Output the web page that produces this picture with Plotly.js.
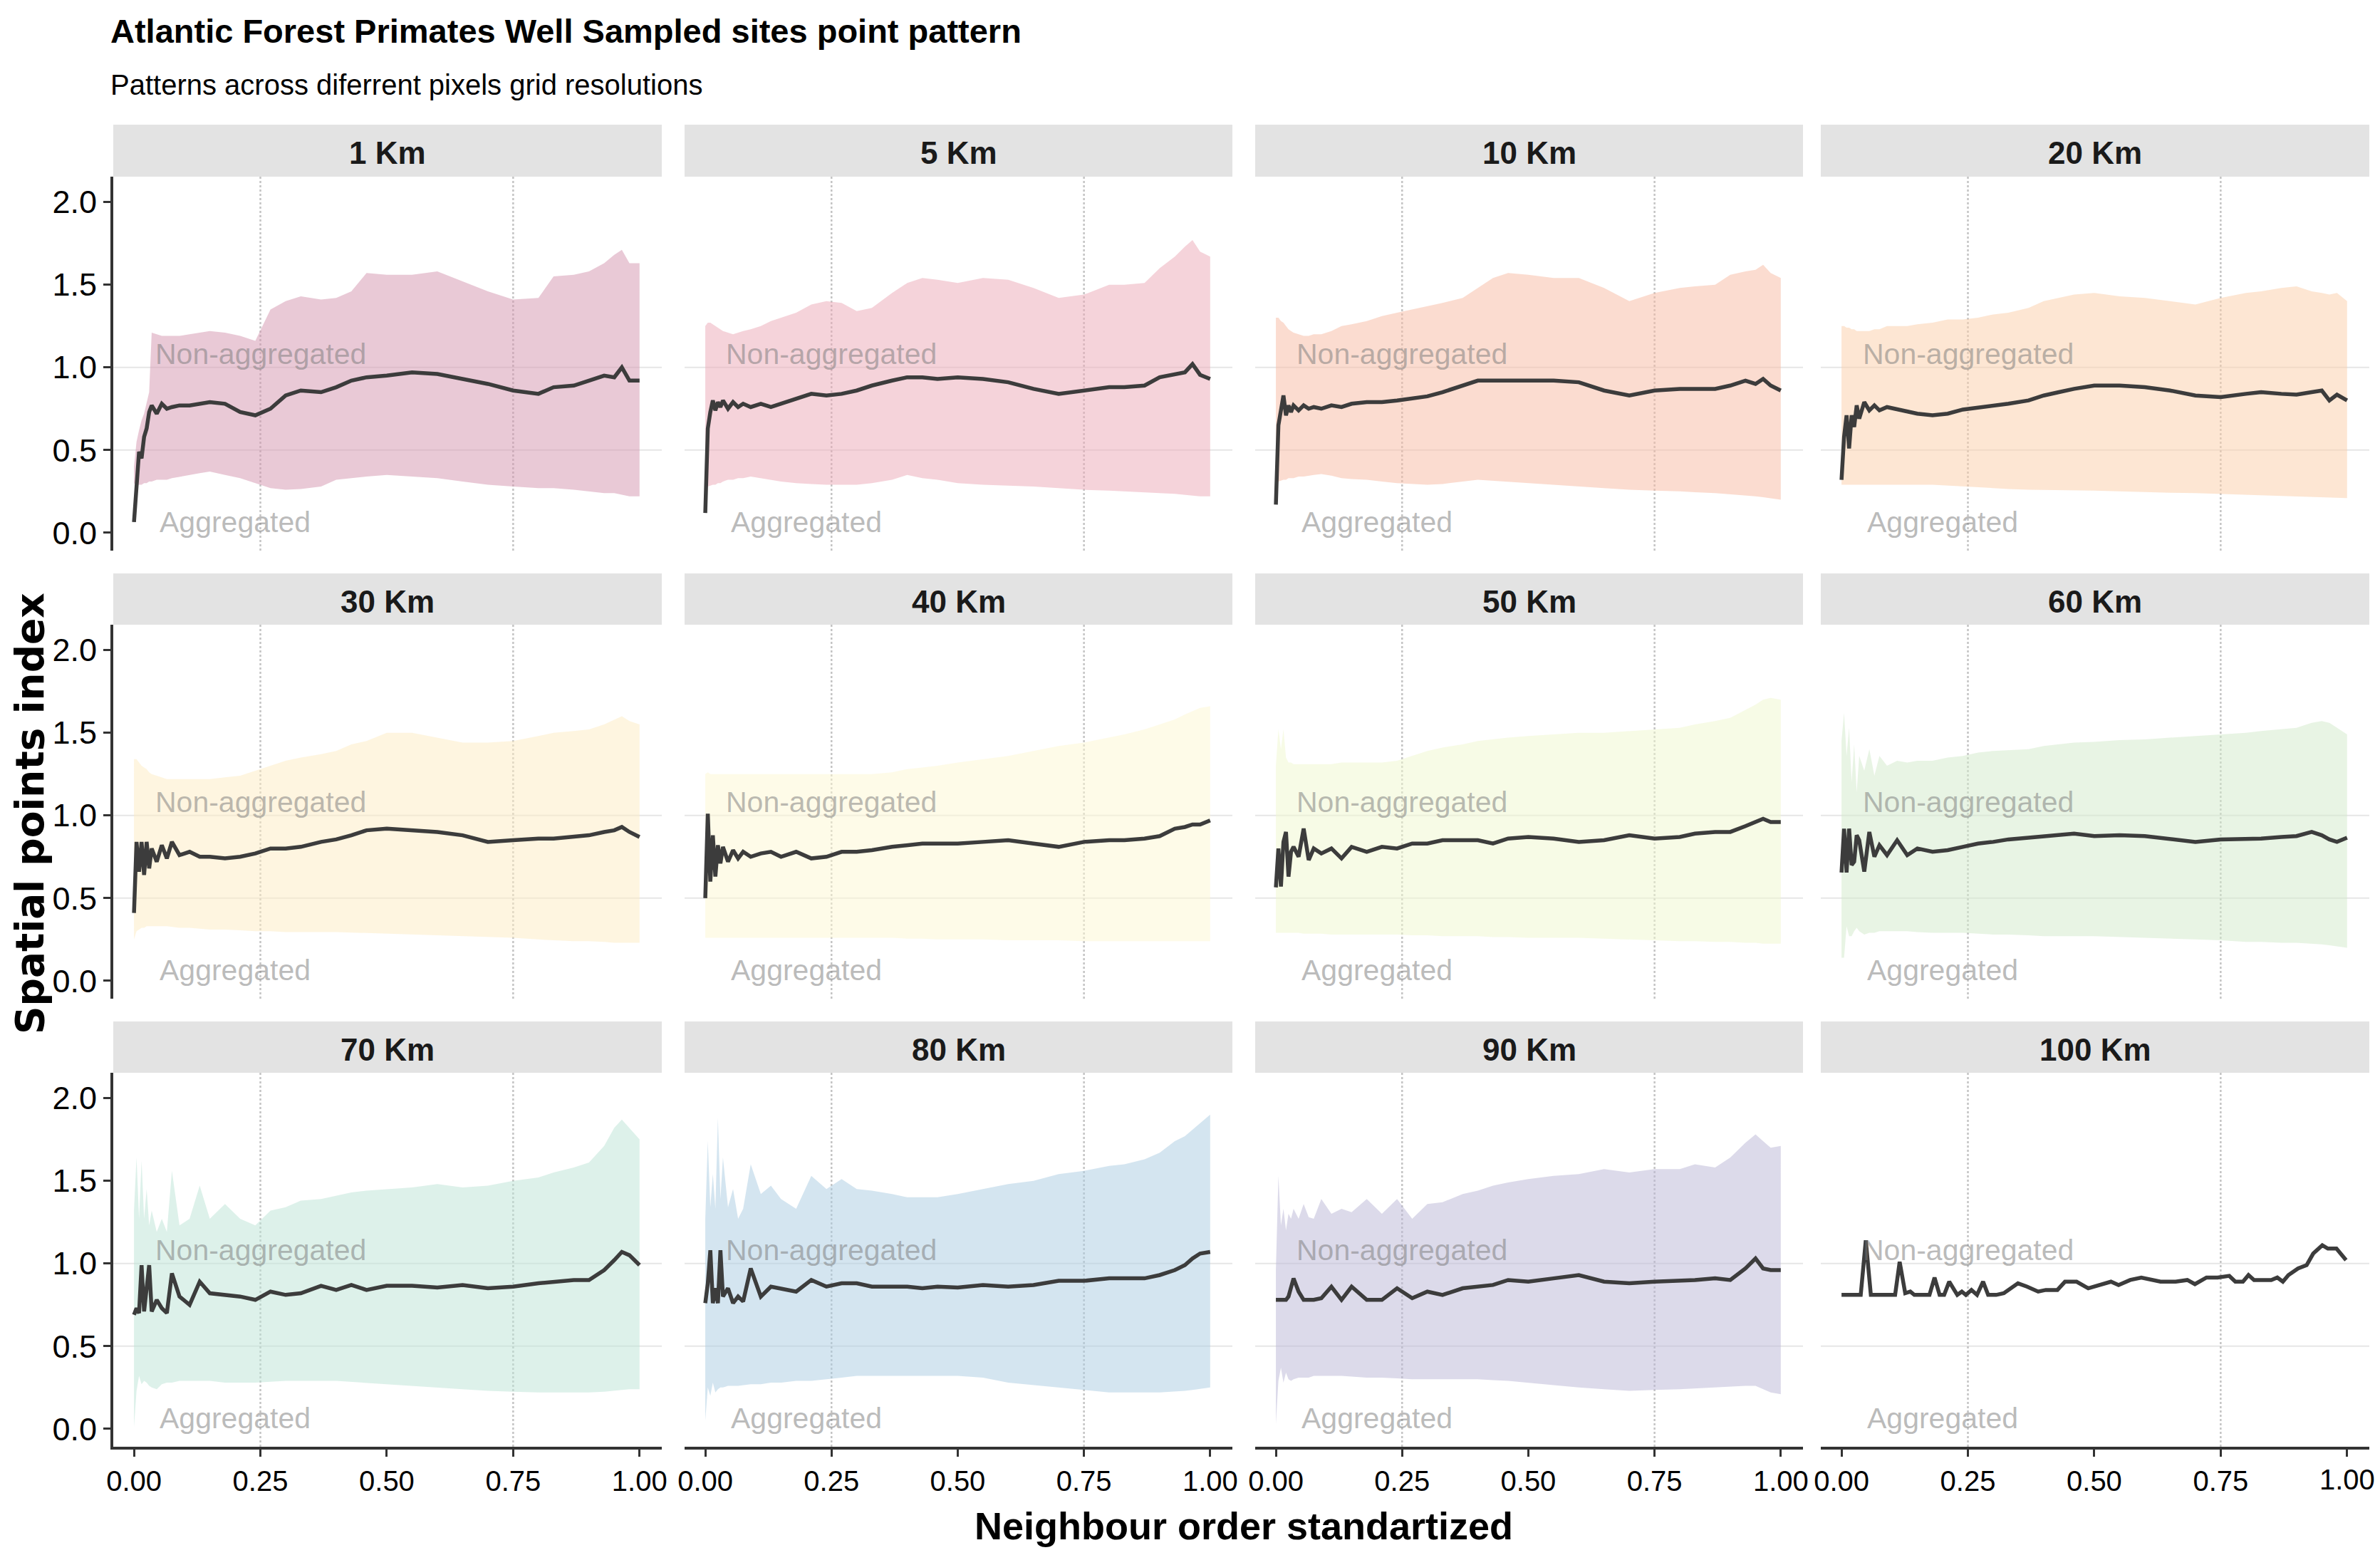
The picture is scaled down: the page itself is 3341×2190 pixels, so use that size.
<!DOCTYPE html>
<html><head><meta charset="utf-8">
<script src="https://cdn.plot.ly/plotly-3.0.1.min.js"></script>
<style>html,body{margin:0;padding:0;background:#fff;overflow:hidden;}#chart{width:3341px;height:2190px;}</style>
</head><body><div id="chart"></div>
<script>
// ---------------- DATA ----------------
const xGrid = [0, 0.005, 0.01, 0.015, 0.02, 0.025, 0.03, 0.035, 0.045, 0.055,
  0.065, 0.075, 0.09, 0.11, 0.13, 0.15, 0.18, 0.21, 0.24, 0.27,
  0.30, 0.33, 0.37, 0.40, 0.43, 0.46, 0.50, 0.55, 0.60, 0.65,
  0.70, 0.75, 0.80, 0.83, 0.87, 0.90, 0.93, 0.95, 0.965, 0.98, 1.0];

const panelLabels = ['1 Km','5 Km','10 Km','20 Km','30 Km','40 Km','50 Km','60 Km','70 Km','80 Km','90 Km','100 Km'];
const xTickVals = [0, 0.25, 0.5, 0.75, 1];
const xTickText = ['0.00','0.25','0.50','0.75','1.00'];
const yTickVals = [0, 0.5, 1, 1.5, 2];
const yTickText = ['0.0','0.5','1.0','1.5','2.0'];

const mean1 = [0.065,0.32,0.49,0.45,0.58,0.63,0.73,0.77,0.72,0.78, 0.75,0.76,0.77,0.77,0.78,0.79,0.78,0.73,0.71,0.75, 0.83,0.86,0.85,0.88,0.92,0.94,0.95,0.97,0.96,0.93, 0.90,0.86,0.84,0.88,0.89,0.92,0.95,0.94,1.00,0.92, 0.92];
const upper1 = [0.40,0.55,0.62,0.68,0.72,0.78,0.85,1.21,1.20,1.19, 1.19,1.19,1.19,1.20,1.21,1.22,1.21,1.19,1.16,1.35, 1.40,1.43,1.41,1.42,1.46,1.57,1.56,1.56,1.58,1.52, 1.46,1.41,1.42,1.55,1.56,1.58,1.63,1.68,1.71,1.63, 1.63];
const lower1 = [0.30,0.285,0.29,0.29,0.30,0.30,0.31,0.31,0.32,0.32, 0.32,0.33,0.34,0.35,0.36,0.37,0.35,0.33,0.30,0.27, 0.26,0.265,0.28,0.32,0.33,0.34,0.35,0.34,0.33,0.31, 0.29,0.28,0.27,0.27,0.26,0.25,0.24,0.24,0.23,0.22, 0.22];

const mean5 = [0.12,0.63,0.73,0.80,0.74,0.79,0.76,0.80,0.75,0.79, 0.76,0.78,0.76,0.78,0.76,0.78,0.81,0.84,0.83,0.84, 0.86,0.89,0.92,0.94,0.94,0.93,0.94,0.93,0.91,0.87, 0.84,0.86,0.88,0.88,0.89,0.94,0.955,0.97,1.02,0.955, 0.93];
const upper5 = [1.25,1.27,1.27,1.26,1.25,1.24,1.23,1.22,1.21,1.20, 1.21,1.22,1.23,1.25,1.28,1.30,1.33,1.38,1.40,1.39, 1.34,1.36,1.45,1.51,1.54,1.53,1.51,1.54,1.53,1.48, 1.42,1.44,1.50,1.50,1.51,1.60,1.67,1.73,1.77,1.70, 1.67];
const lower5 = [0.28,0.28,0.285,0.29,0.29,0.30,0.30,0.31,0.32,0.32, 0.33,0.33,0.34,0.33,0.32,0.31,0.30,0.295,0.29,0.29, 0.29,0.30,0.32,0.35,0.33,0.32,0.30,0.29,0.285,0.28, 0.27,0.26,0.255,0.25,0.245,0.24,0.235,0.23,0.225,0.22, 0.22];

const mean10 = [0.17,0.65,0.74,0.83,0.71,0.77,0.73,0.77,0.74,0.77, 0.75,0.76,0.75,0.77,0.76,0.78,0.79,0.79,0.80,0.81, 0.825,0.85,0.89,0.92,0.92,0.92,0.92,0.92,0.91,0.86, 0.83,0.86,0.87,0.87,0.87,0.89,0.92,0.90,0.93,0.89, 0.86];
const upper10 = [1.30,1.30,1.28,1.27,1.25,1.23,1.22,1.21,1.20,1.19, 1.19,1.20,1.20,1.22,1.25,1.26,1.28,1.31,1.33,1.35, 1.37,1.39,1.42,1.48,1.54,1.57,1.56,1.54,1.54,1.48, 1.40,1.45,1.48,1.49,1.50,1.56,1.58,1.59,1.62,1.57, 1.54];
const lower10 = [0.31,0.31,0.315,0.32,0.32,0.33,0.33,0.33,0.34,0.34, 0.345,0.35,0.355,0.345,0.33,0.325,0.32,0.31,0.30,0.295, 0.29,0.295,0.31,0.32,0.315,0.31,0.30,0.29,0.28,0.27, 0.26,0.255,0.25,0.245,0.24,0.23,0.225,0.22,0.215,0.21, 0.20];

const mean20 = [0.32,0.58,0.71,0.51,0.71,0.64,0.77,0.69,0.79,0.74, 0.77,0.74,0.76,0.745,0.73,0.72,0.71,0.72,0.745,0.755, 0.77,0.78,0.80,0.83,0.85,0.87,0.89,0.89,0.88,0.86, 0.83,0.82,0.84,0.85,0.84,0.835,0.85,0.86,0.80,0.835, 0.80];
const upper20 = [1.25,1.25,1.24,1.24,1.23,1.23,1.22,1.22,1.22,1.22, 1.23,1.23,1.25,1.25,1.25,1.26,1.27,1.29,1.29,1.30, 1.32,1.33,1.36,1.40,1.42,1.44,1.45,1.43,1.42,1.40, 1.38,1.42,1.45,1.46,1.48,1.49,1.46,1.45,1.44,1.45, 1.40];
const lower20 = [0.29,0.29,0.29,0.29,0.29,0.29,0.29,0.29,0.29,0.29, 0.29,0.29,0.29,0.29,0.29,0.29,0.29,0.285,0.28,0.275, 0.27,0.265,0.26,0.26,0.258,0.256,0.255,0.25,0.245,0.242, 0.24,0.235,0.23,0.228,0.225,0.22,0.218,0.216,0.214,0.212, 0.21];

const mean30 = [0.41,0.84,0.66,0.84,0.64,0.84,0.68,0.80,0.72,0.82, 0.74,0.84,0.76,0.78,0.75,0.75,0.74,0.75,0.77,0.80, 0.80,0.81,0.84,0.855,0.88,0.91,0.92,0.91,0.90,0.88, 0.84,0.85,0.86,0.86,0.87,0.88,0.90,0.91,0.93,0.90, 0.87];
const upper30 = [1.34,1.34,1.32,1.30,1.29,1.28,1.26,1.25,1.24,1.23, 1.22,1.22,1.22,1.22,1.22,1.22,1.23,1.24,1.27,1.30, 1.33,1.35,1.37,1.39,1.43,1.45,1.50,1.50,1.47,1.44, 1.44,1.45,1.48,1.50,1.51,1.52,1.55,1.58,1.60,1.57, 1.55];
const lower30 = [0.25,0.30,0.31,0.32,0.32,0.33,0.33,0.33,0.33,0.33, 0.33,0.325,0.32,0.32,0.315,0.31,0.31,0.305,0.30,0.30, 0.295,0.295,0.295,0.295,0.29,0.29,0.285,0.28,0.275,0.27, 0.265,0.26,0.25,0.245,0.24,0.24,0.235,0.23,0.23,0.23, 0.23];

const mean40 = [0.50,1.01,0.60,0.88,0.63,0.82,0.71,0.81,0.72,0.79, 0.74,0.78,0.75,0.77,0.78,0.75,0.78,0.74,0.75,0.78, 0.78,0.79,0.81,0.82,0.83,0.83,0.83,0.84,0.85,0.83, 0.81,0.84,0.85,0.85,0.86,0.875,0.92,0.93,0.945,0.945, 0.97];
const upper40 = [1.25,1.26,1.25,1.25,1.25,1.25,1.25,1.25,1.25,1.25, 1.25,1.25,1.25,1.25,1.25,1.25,1.25,1.25,1.25,1.25, 1.25,1.25,1.26,1.28,1.29,1.30,1.32,1.34,1.36,1.39, 1.42,1.44,1.47,1.49,1.52,1.55,1.58,1.61,1.63,1.65, 1.66];
const lower40 = [0.26,0.26,0.26,0.26,0.26,0.26,0.26,0.26,0.26,0.26, 0.26,0.26,0.26,0.26,0.26,0.26,0.26,0.26,0.26,0.26, 0.26,0.26,0.26,0.255,0.255,0.25,0.25,0.25,0.245,0.245, 0.245,0.24,0.24,0.24,0.24,0.24,0.24,0.24,0.24,0.24, 0.24];

const mean50 = [0.565,0.80,0.57,0.84,0.90,0.63,0.78,0.81,0.75,0.92, 0.73,0.80,0.77,0.80,0.74,0.81,0.78,0.81,0.80,0.83, 0.83,0.85,0.85,0.85,0.83,0.86,0.87,0.86,0.84,0.85, 0.88,0.86,0.87,0.89,0.90,0.90,0.935,0.96,0.98,0.96, 0.96];
const upper50 = [1.30,1.52,1.40,1.52,1.35,1.32,1.32,1.31,1.31,1.31, 1.31,1.31,1.31,1.31,1.32,1.32,1.32,1.32,1.33,1.36, 1.39,1.41,1.43,1.45,1.46,1.47,1.48,1.49,1.50,1.50, 1.51,1.52,1.53,1.55,1.57,1.59,1.64,1.67,1.70,1.71, 1.70];
const lower50 = [0.29,0.29,0.29,0.29,0.29,0.29,0.29,0.29,0.29,0.285, 0.285,0.285,0.285,0.28,0.28,0.28,0.28,0.28,0.28,0.275, 0.275,0.27,0.27,0.27,0.265,0.265,0.26,0.26,0.26,0.255, 0.25,0.245,0.24,0.24,0.235,0.235,0.23,0.23,0.225,0.225, 0.225];

const mean60 = [0.655,0.92,0.655,0.92,0.70,0.72,0.88,0.85,0.66,0.90, 0.75,0.82,0.76,0.85,0.76,0.80,0.78,0.79,0.81,0.83, 0.84,0.855,0.865,0.875,0.88,0.89,0.875,0.88,0.875,0.855, 0.84,0.855,0.86,0.86,0.87,0.875,0.90,0.88,0.855,0.84, 0.865];
const upper60 = [1.45,1.62,1.36,1.53,1.20,1.43,1.14,1.36,1.27,1.40, 1.24,1.36,1.30,1.33,1.32,1.33,1.33,1.35,1.36,1.38, 1.39,1.395,1.40,1.42,1.43,1.44,1.445,1.455,1.46,1.47, 1.48,1.49,1.50,1.51,1.52,1.53,1.56,1.57,1.56,1.53, 1.49];
const lower60 = [0.14,0.14,0.33,0.27,0.27,0.30,0.32,0.30,0.28,0.29, 0.29,0.30,0.30,0.30,0.30,0.295,0.29,0.29,0.29,0.285, 0.28,0.28,0.275,0.27,0.27,0.27,0.27,0.265,0.26,0.255, 0.25,0.245,0.235,0.235,0.23,0.23,0.225,0.22,0.215,0.21, 0.20];

const mean70 = [0.69,0.73,0.70,0.99,0.71,0.84,0.99,0.71,0.78,0.73, 0.70,0.94,0.80,0.75,0.89,0.82,0.81,0.80,0.78,0.83, 0.81,0.82,0.865,0.84,0.87,0.84,0.865,0.865,0.855,0.87, 0.85,0.86,0.88,0.89,0.90,0.90,0.96,1.02,1.07,1.05, 0.99];
const upper70 = [1.32,1.64,1.27,1.62,1.27,1.45,1.23,1.32,1.19,1.27, 1.19,1.56,1.23,1.27,1.47,1.27,1.36,1.27,1.23,1.32, 1.34,1.38,1.39,1.41,1.43,1.44,1.45,1.46,1.48,1.46, 1.47,1.50,1.52,1.55,1.58,1.61,1.71,1.82,1.87,1.82, 1.75];
const lower70 = [0.01,0.23,0.32,0.27,0.29,0.28,0.26,0.25,0.24,0.27, 0.28,0.28,0.29,0.29,0.29,0.29,0.28,0.28,0.28,0.285, 0.29,0.29,0.29,0.29,0.285,0.28,0.27,0.26,0.25,0.24, 0.23,0.225,0.22,0.22,0.22,0.22,0.225,0.23,0.235,0.24, 0.24];

const mean80 = [0.76,0.88,1.08,0.76,0.85,0.76,1.08,0.80,0.85,0.76, 0.80,0.77,0.97,0.80,0.86,0.85,0.83,0.90,0.86,0.88, 0.88,0.86,0.86,0.86,0.85,0.86,0.855,0.87,0.86,0.87, 0.895,0.895,0.91,0.91,0.91,0.93,0.96,0.99,1.03,1.06, 1.07];
const upper80 = [1.27,1.74,1.34,1.54,1.33,1.88,1.39,1.64,1.34,1.45, 1.27,1.33,1.60,1.42,1.47,1.39,1.33,1.53,1.45,1.51, 1.45,1.44,1.42,1.40,1.40,1.40,1.42,1.45,1.48,1.50, 1.54,1.56,1.59,1.60,1.63,1.67,1.74,1.77,1.81,1.85, 1.90];
const lower80 = [0.05,0.25,0.20,0.28,0.22,0.24,0.25,0.25,0.26,0.26, 0.26,0.265,0.27,0.27,0.28,0.28,0.29,0.29,0.30,0.31, 0.32,0.32,0.32,0.32,0.32,0.32,0.32,0.31,0.28,0.265, 0.25,0.235,0.22,0.22,0.22,0.22,0.225,0.23,0.235,0.24, 0.25];

const mean90 = [0.78,0.78,0.78,0.78,0.78,0.80,0.86,0.91,0.83,0.78, 0.78,0.78,0.79,0.86,0.78,0.86,0.78,0.78,0.85,0.79, 0.83,0.81,0.85,0.86,0.87,0.90,0.89,0.91,0.93,0.89, 0.88,0.89,0.895,0.90,0.91,0.90,0.97,1.03,0.97,0.96, 0.96];
const upper90 = [0.96,1.53,1.23,1.33,1.20,1.30,1.27,1.33,1.27,1.36, 1.28,1.27,1.39,1.30,1.33,1.31,1.39,1.30,1.39,1.27, 1.36,1.37,1.42,1.44,1.47,1.49,1.51,1.53,1.54,1.57, 1.55,1.57,1.57,1.60,1.58,1.64,1.73,1.78,1.74,1.70, 1.71];
const lower90 = [0.03,0.29,0.37,0.28,0.34,0.30,0.29,0.30,0.31,0.31, 0.31,0.32,0.32,0.32,0.32,0.315,0.31,0.31,0.305,0.30, 0.30,0.30,0.30,0.30,0.295,0.29,0.28,0.265,0.25,0.24, 0.23,0.235,0.24,0.245,0.25,0.255,0.26,0.26,0.24,0.22, 0.21];

const x100 = [0,0.038,0.048,0.058,0.106,0.115,0.126,0.136,0.144,0.174, 0.184,0.194,0.203,0.213,0.229,0.238,0.246,0.257,0.268,0.28, 0.29,0.306,0.321,0.336,0.349,0.367,0.389,0.404,0.427,0.442, 0.465,0.488,0.51,0.533,0.548,0.571,0.593,0.616,0.631,0.661, 0.684,0.699,0.722,0.744,0.767,0.779,0.794,0.805,0.816,0.85, 0.862,0.873,0.884,0.903,0.92,0.933,0.951,0.962,0.979,0.998];
const mean100 = [0.81,0.81,1.14,0.81,0.81,1.01,0.82,0.83,0.81,0.81, 0.915,0.81,0.81,0.89,0.81,0.83,0.81,0.84,0.81,0.89, 0.81,0.81,0.82,0.85,0.88,0.86,0.83,0.84,0.84,0.89, 0.89,0.85,0.87,0.89,0.87,0.90,0.915,0.90,0.89,0.89, 0.90,0.875,0.915,0.915,0.925,0.89,0.89,0.93,0.90,0.90, 0.915,0.89,0.93,0.97,0.99,1.06,1.11,1.09,1.09,1.02];

const meanSeries  = [mean1, mean5, mean10, mean20, mean30, mean40, mean50, mean60, mean70, mean80, mean90, mean100];
const upperSeries = [upper1, upper5, upper10, upper20, upper30, upper40, upper50, upper60, upper70, upper80, upper90, null];
const lowerSeries = [lower1, lower5, lower10, lower20, lower30, lower40, lower50, lower60, lower70, lower80, lower90, null];
const ribbonColors = ['rgba(211,147,173,0.5)','rgba(235,167,181,0.5)','rgba(247,185,161,0.5)','rgba(251,205,167,0.5)',
  'rgba(253,235,193,0.5)','rgba(253,247,209,0.5)','rgba(239,247,205,0.5)','rgba(209,233,201,0.5)',
  'rgba(187,227,213,0.5)','rgba(169,203,225,0.5)','rgba(185,181,213,0.5)', null];

// ---------------- LAYOUT ----------------
const W = 3341, H = 2190;
const NARROW = "'Liberation Sans Narrow', 'Arial Narrow', 'Liberation Sans', Arial, sans-serif";
const colL = [159, 961, 1762, 2556], colR = [929, 1730, 2531, 3326];
const rowT = [248, 877, 1506], rowB = [773, 1402, 2031], stripT = [175, 805, 1434];
const XR = [-0.041, 1.044], YR = [-0.108, 2.153];
const TICKFONT_X = {family: NARROW, size: 40, color: '#000'};

const traces = [], shapes = [], annotations = [];
const layout = {
  width: W, height: H, margin: {l:0, r:0, t:0, b:0},
  paper_bgcolor: '#ffffff', plot_bgcolor: '#ffffff', showlegend: false,
  font: {family: NARROW, color: '#000'}
};

panelLabels.forEach((lab, i) => {
  const r = Math.floor(i / 4), c = i % 4, k = i + 1;
  const sx = k === 1 ? '' : String(k);
  const xa = 'x' + sx, ya = 'y' + sx;
  const bottom = r === 2, left = c === 0;
  const lastPanel = i === panelLabels.length - 1;
  // the right-most label of the last panel sits at the page edge; it is drawn below as an annotation
  const tt = lastPanel ? xTickText.map((t, j) => j === xTickText.length - 1 ? '' : t) : xTickText;
  layout['xaxis' + sx] = {
    domain: [colL[c] / W, colR[c] / W], range: XR, anchor: ya,
    showgrid: false, zeroline: false, fixedrange: true,
    showline: bottom, linecolor: '#333333', linewidth: 4,
    ticks: bottom ? 'outside' : '', ticklen: 10, tickwidth: 3, tickcolor: '#333333',
    tickmode: 'array', tickvals: xTickVals, ticktext: tt, ticklabeloverflow: 'allow',
    showticklabels: bottom, tickfont: TICKFONT_X
  };
  layout['yaxis' + sx] = {
    domain: [1 - rowB[r] / H, 1 - rowT[r] / H], range: YR, anchor: xa,
    showgrid: false, zeroline: false, fixedrange: true,
    showline: left, linecolor: '#333333', linewidth: 4,
    ticks: left ? 'outside' : '', ticklen: 10, tickwidth: 3, tickcolor: '#333333',
    tickmode: 'array', tickvals: yTickVals, ticktext: yTickText,
    showticklabels: left, tickfont: {family: NARROW, size: 45, color: '#000'}
  };
  if (lastPanel) {
    annotations.push({xref: xa, yref: 'paper', x: xTickVals[xTickVals.length - 1], y: 1 - 2053 / H,
      text: xTickText[xTickText.length - 1], showarrow: false, xanchor: 'center', yanchor: 'top',
      font: TICKFONT_X});
  }
  // strip
  shapes.push({type: 'rect', xref: 'paper', yref: 'paper', x0: colL[c] / W, x1: colR[c] / W,
    y0: 1 - rowT[r] / H, y1: 1 - stripT[r] / H, fillcolor: '#e3e3e3', line: {width: 0}, layer: 'below'});
  annotations.push({xref: 'paper', yref: 'paper', x: (colL[c] + colR[c]) / 2 / W, y: 1 - ((stripT[r] + rowT[r]) / 2 + 3) / H,
    text: '<b>' + lab + '</b>', showarrow: false, xanchor: 'center', yanchor: 'middle',
    font: {family: NARROW, size: 44, color: '#1a1a1a'}});
  // grid
  [0.5, 1.0].forEach(v => shapes.push({type: 'line', xref: xa + ' domain', yref: ya, x0: 0, x1: 1, y0: v, y1: v,
    line: {color: '#e6e6e6', width: 2}, layer: 'below'}));
  [0.25, 0.75].forEach(v => shapes.push({type: 'line', xref: xa, yref: ya + ' domain', x0: v, x1: v, y0: 0, y1: 1,
    line: {color: '#c4c4c4', width: 2.5, dash: 'dot'}, layer: 'below'}));
  // ribbon
  if (upperSeries[i]) {
    traces.push({type: 'scatter', mode: 'lines', xaxis: xa, yaxis: ya,
      x: xGrid.concat(xGrid.slice().reverse()),
      y: upperSeries[i].concat(lowerSeries[i].slice().reverse()),
      fill: 'toself', fillcolor: ribbonColors[i], line: {width: 0}, hoverinfo: 'skip'});
  }
  // mean line
  traces.push({type: 'scatter', mode: 'lines', xaxis: xa, yaxis: ya,
    x: i === 11 ? x100 : xGrid, y: meanSeries[i],
    line: {color: '#3c3c3c', width: 5.5}, hoverinfo: 'skip'});
  // labels
  annotations.push({xref: xa, yref: ya, x: 0.25, y: 1.08, text: 'Non-aggregated', showarrow: false,
    xanchor: 'center', yanchor: 'middle', font: {family: NARROW, size: 41, color: 'rgba(120,120,120,0.5)'}});
  annotations.push({xref: xa, yref: ya, x: 0.2, y: 0.065, text: 'Aggregated', showarrow: false,
    xanchor: 'center', yanchor: 'middle', font: {family: NARROW, size: 41, color: 'rgba(120,120,120,0.5)'}});
});

// titles
annotations.push({xref: 'paper', yref: 'paper', x: 153 / W, y: 1 - 44 / H, xanchor: 'left', yanchor: 'middle',
  text: '<b>Atlantic Forest Primates Well Sampled sites point pattern</b>', showarrow: false,
  font: {family: NARROW, size: 47, color: '#000'}});
annotations.push({xref: 'paper', yref: 'paper', x: 153 / W, y: 1 - 119 / H, xanchor: 'left', yanchor: 'middle',
  text: 'Patterns across diferrent pixels grid resolutions', showarrow: false,
  font: {family: NARROW, size: 40, color: '#000'}});
annotations.push({xref: 'paper', yref: 'paper', x: 1746 / W, y: 1 - 2142 / H, xanchor: 'center', yanchor: 'middle',
  text: '<b>Neighbour order standartized</b>', showarrow: false,
  font: {family: NARROW, size: 54, color: '#000'}});
annotations.push({xref: 'paper', yref: 'paper', x: 42 / W, y: 1 - 1142 / H, xanchor: 'center', yanchor: 'middle',
  text: '<b>Spatial points index</b>', showarrow: false, textangle: -90,
  font: {family: "'DejaVu Sans', sans-serif", size: 55, color: '#000'}});

layout.shapes = shapes;
layout.annotations = annotations;
Plotly.newPlot('chart', traces, layout, {staticPlot: true, displayModeBar: false});
</script></body></html>
